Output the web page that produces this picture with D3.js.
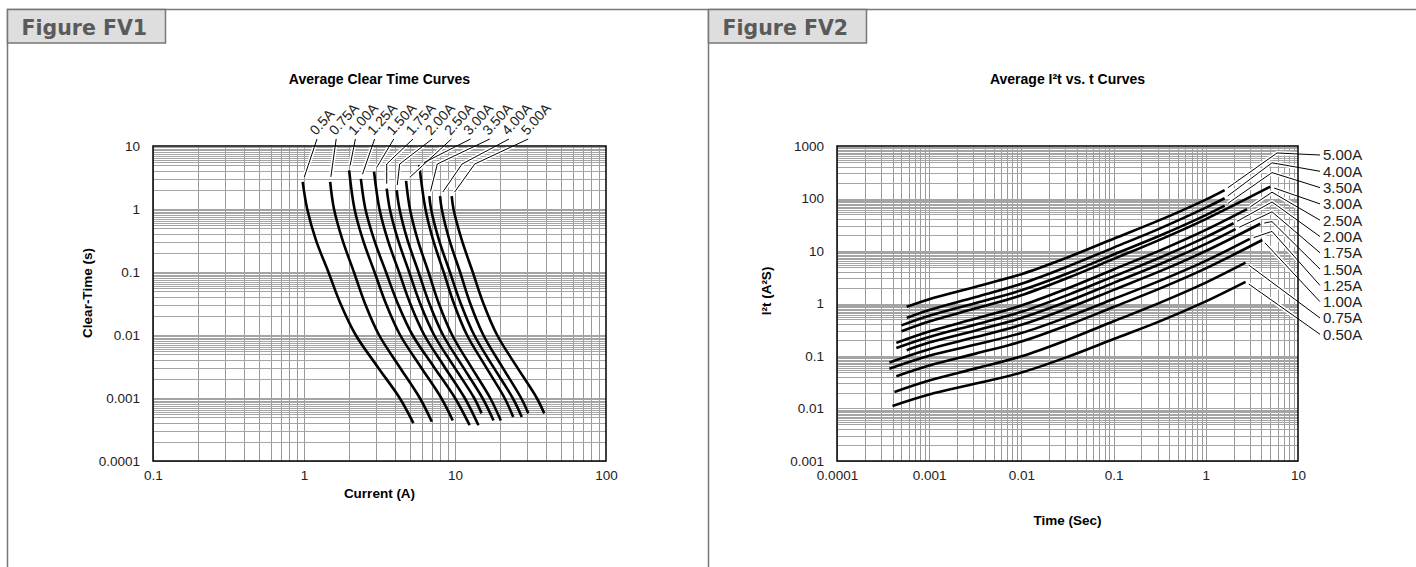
<!DOCTYPE html>
<html>
<head>
<meta charset="utf-8">
<script src="https://cdn.jsdelivr.net/npm/d3@7"></script>
<style>
  body { margin: 0; background: #fff; }
  svg text { font-family: "Liberation Sans", Arial, Helvetica, sans-serif; }
</style>
</head>
<body>
<div id="chart"></div>
<script>
// ratings, as labelled on each figure
var clearLabels = ["0.5A", "0.75A", "1.00A", "1.25A", "1.50A", "1.75A", "2.00A", "2.50A", "3.00A", "3.50A", "4.00A", "5.00A"];
var i2tLabels = ["0.50A", "0.75A", "1.00A", "1.25A", "1.50A", "1.75A", "2.00A", "2.50A", "3.00A", "3.50A", "4.00A", "5.00A"];

// Figure FV1 : current (A) / clear time (s), one row per rating
var clearCurrent = [
  [0.98, 1.05, 1.20, 1.45, 1.74, 2.20, 3.05, 4.30, 5.30],
  [1.49, 1.58, 1.80, 2.14, 2.53, 3.14, 4.26, 5.85, 7.02],
  [1.99, 2.16, 2.46, 2.93, 3.48, 4.33, 5.89, 8.11, 9.66],
  [2.38, 2.55, 2.92, 3.49, 4.17, 5.23, 7.19, 10.0, 12.5],
  [2.91, 3.16, 3.59, 4.26, 5.04, 6.26, 8.46, 11.6, 14.3],
  [3.53, 3.70, 4.20, 4.97, 5.87, 7.27, 9.80, 13.4, 15.0],
  [4.11, 4.29, 4.85, 5.73, 6.75, 8.33, 11.2, 15.2, 18.0],
  [4.74, 5.03, 5.67, 6.67, 7.80, 9.57, 12.7, 17.1, 20.1],
  [5.80, 6.37, 7.17, 8.41, 9.82, 12.0, 15.9, 21.3, 24.3],
  [6.76, 6.94, 7.84, 9.25, 10.9, 13.4, 17.8, 24.1, 27.7],
  [7.96, 8.17, 9.19, 10.8, 12.6, 15.4, 20.4, 27.4, 30.6],
  [9.51, 9.77, 11.1, 13.1, 15.4, 19.0, 25.5, 34.8, 39.0]
];
var clearTime = [
  [2.7, 1, 0.32, 0.1, 0.032, 0.01, 0.0032, 0.001, 0.0004],
  [2.7, 1, 0.32, 0.1, 0.032, 0.01, 0.0032, 0.001, 0.00042],
  [4.1, 1, 0.32, 0.1, 0.032, 0.01, 0.0032, 0.001, 0.00044],
  [3.0, 1, 0.32, 0.1, 0.032, 0.01, 0.0032, 0.001, 0.00037],
  [3.9, 1, 0.32, 0.1, 0.032, 0.01, 0.0032, 0.001, 0.00037],
  [2.1, 1, 0.32, 0.1, 0.032, 0.01, 0.0032, 0.001, 0.00057],
  [2.0, 1, 0.32, 0.1, 0.032, 0.01, 0.0032, 0.001, 0.00044],
  [2.8, 1, 0.32, 0.1, 0.032, 0.01, 0.0032, 0.001, 0.00044],
  [5.0, 1, 0.32, 0.1, 0.032, 0.01, 0.0032, 0.001, 0.0005],
  [1.6, 1, 0.32, 0.1, 0.032, 0.01, 0.0032, 0.001, 0.0005],
  [1.6, 1, 0.32, 0.1, 0.032, 0.01, 0.0032, 0.001, 0.00057],
  [1.6, 1, 0.32, 0.1, 0.032, 0.01, 0.0032, 0.001, 0.00057]
];

// Figure FV2 : time (s) / I2t (A2s)
var i2tTime = [
  [2.7, 1, 0.32, 0.1, 0.032, 0.01, 0.0032, 0.001, 0.0004],
  [2.7, 1, 0.32, 0.1, 0.032, 0.01, 0.0032, 0.001, 0.00042],
  [4.1, 1, 0.32, 0.1, 0.032, 0.01, 0.0032, 0.001, 0.00044],
  [3.0, 1, 0.32, 0.1, 0.032, 0.01, 0.0032, 0.001, 0.00037],
  [3.9, 1, 0.32, 0.1, 0.032, 0.01, 0.0032, 0.001, 0.00037],
  [2.1, 1, 0.32, 0.1, 0.032, 0.01, 0.0032, 0.001, 0.00057],
  [2.0, 1, 0.32, 0.1, 0.032, 0.01, 0.0032, 0.001, 0.00044],
  [2.8, 1, 0.32, 0.1, 0.032, 0.01, 0.0032, 0.001, 0.00044],
  [5.0, 1, 0.32, 0.1, 0.032, 0.01, 0.0032, 0.001, 0.0005],
  [1.6, 1, 0.32, 0.1, 0.032, 0.01, 0.0032, 0.001, 0.0005],
  [1.6, 1, 0.32, 0.1, 0.032, 0.01, 0.0032, 0.001, 0.00057],
  [1.6, 1, 0.32, 0.1, 0.032, 0.01, 0.0032, 0.001, 0.00057]
];
var i2tValue = [
  [2.59, 1.10, 0.461, 0.210, 0.0969, 0.0484, 0.0298, 0.0185, 0.0112],
  [5.99, 2.50, 1.04, 0.458, 0.205, 0.0986, 0.0581, 0.0342, 0.0207],
  [16.2, 4.67, 1.94, 0.859, 0.388, 0.188, 0.111, 0.0658, 0.0411],
  [17.0, 6.50, 2.73, 1.22, 0.557, 0.274, 0.165, 0.101, 0.0574],
  [33.0, 9.99, 4.13, 1.82, 0.813, 0.392, 0.229, 0.135, 0.0752],
  [26.2, 13.7, 5.65, 2.47, 1.10, 0.529, 0.307, 0.180, 0.129],
  [33.8, 18.4, 7.53, 3.28, 1.46, 0.694, 0.399, 0.230, 0.142],
  [62.9, 25.3, 10.3, 4.45, 1.95, 0.916, 0.516, 0.292, 0.178],
  [168, 40.6, 16.5, 7.07, 3.09, 1.44, 0.808, 0.454, 0.296],
  [73.1, 48.2, 19.7, 8.56, 3.77, 1.79, 1.02, 0.583, 0.383],
  [101, 66.8, 27.0, 11.6, 5.09, 2.38, 1.33, 0.751, 0.532],
  [145, 95.5, 39.1, 17.1, 7.60, 3.62, 2.09, 1.21, 0.867]
];

// tick labels
var currentTicks = ["0.1", "1", "10", "100"];
var clearTimeTicks = ["0.0001", "0.001", "0.01", "0.1", "1", "10"];
var timeTicks = ["0.0001", "0.001", "0.01", "0.1", "1", "10"];
var i2tTicks = ["0.001", "0.01", "0.1", "1", "10", "100", "1000"];

var W = 1416, H = 567;
var svg = d3.select("#chart").append("svg")
    .attr("width", W)
    .attr("height", H);

// page frame and figure tabs
var frame = svg.append("g").attr("stroke", "#777").attr("stroke-width", 1.5);
frame.append("line").attr("x1", 7).attr("x2", W).attr("y1", 9.5).attr("y2", 9.5);
frame.append("line").attr("x1", 7.5).attr("x2", 7.5).attr("y1", 9).attr("y2", H);
frame.append("line").attr("x1", 708.5).attr("x2", 708.5).attr("y1", 9).attr("y2", H);

[["Figure FV1", 7.5], ["Figure FV2", 708.5]].forEach(function(f) {
  svg.append("rect")
      .attr("x", f[1]).attr("y", 9.5)
      .attr("width", 158).attr("height", 33.5)
      .attr("fill", "#dedede")
      .attr("stroke", "#777").attr("stroke-width", 1.5);
  svg.append("text")
      .attr("x", f[1] + 14).attr("y", 34.5)
      .style("font-family", "'DejaVu Sans', sans-serif")
      .style("font-weight", "bold")
      .style("font-size", "20.5px")
      .attr("fill", "#5a5a5a")
      .text(f[0]);
});

function gridValues(lo, hi, mults) {
  var v = [];
  for (var e = Math.round(Math.log10(lo)); e < Math.round(Math.log10(hi)); e++) {
    mults.forEach(function(m) { v.push(m * Math.pow(10, e)); });
  }
  return v;
}

var xMults = [1, 2, 3, 4, 5, 6, 7, 8, 9];
var yMults = [1, 2, 3, 4, 5, 5.5, 6, 6.5, 7, 7.5, 8, 8.5, 9, 9.5];

var line = d3.line().curve(d3.curveCatmullRom.alpha(0.5));

function shorten(p, q, d) {
  // move point q towards p by d px
  var dx = p[0] - q[0], dy = p[1] - q[1], len = Math.sqrt(dx * dx + dy * dy);
  return [q[0] + dx / len * d, q[1] + dy / len * d];
}

function drawPanel(o) {
  var g = svg.append("g");
  var x = o.x, y = o.y;
  var x0 = x.range()[0], x1 = x.range()[1], y0 = y.range()[1], y1 = y.range()[0];

  g.append("g").selectAll("line")
    .data(gridValues(x.domain()[0], x.domain()[1], xMults))
    .enter().append("line")
      .attr("x1", function(d) { return Math.round(x(d)) + 0.5; })
      .attr("x2", function(d) { return Math.round(x(d)) + 0.5; })
      .attr("y1", y0).attr("y2", y1)
      .attr("stroke", "#9a9a9a").attr("stroke-width", 1);
  g.append("g").selectAll("line")
    .data(gridValues(y.domain()[0], y.domain()[1], yMults))
    .enter().append("line")
      .attr("y1", function(d) { return Math.round(y(d)) + 0.5; })
      .attr("y2", function(d) { return Math.round(y(d)) + 0.5; })
      .attr("x1", x0).attr("x2", x1)
      .attr("stroke", "#a4a4a4").attr("stroke-width", 1);

  g.append("g").selectAll("path")
    .data(o.series)
    .enter().append("path")
      .attr("d", function(s) { return line(s.map(function(p) { return [x(p[0]), y(p[1])]; })); })
      .attr("fill", "none")
      .attr("stroke", "#000")
      .attr("stroke-width", 2.6);

  // leader lines with a white halo, so crossed curves break
  var lg = g.append("g");
  lg.selectAll("path.halo").data(o.leaders).enter().append("path")
      .attr("d", function(d) { return d3.line()(d); })
      .attr("fill", "none").attr("stroke", "#fff").attr("stroke-width", 4);
  lg.selectAll("path.ld").data(o.leaders).enter().append("path")
      .attr("d", function(d) { return d3.line()(d); })
      .attr("fill", "none").attr("stroke", "#000").attr("stroke-width", 1);

  g.append("rect")
      .attr("x", x0).attr("y", y0)
      .attr("width", x1 - x0).attr("height", y1 - y0)
      .attr("fill", "none").attr("stroke", "#000").attr("stroke-width", 1.5);

  var ax = g.append("g")
      .attr("transform", "translate(0," + y1 + ")")
      .call(d3.axisBottom(x).tickValues(o.xTicks.map(Number)).tickSize(0).tickPadding(9)
        .tickFormat(function(d, i) { return o.xTicks[i]; }));
  var ay = g.append("g")
      .attr("transform", "translate(" + x0 + ",0)")
      .call(d3.axisLeft(y).tickValues(o.yTicks.map(Number)).tickSize(0).tickPadding(13)
        .tickFormat(function(d, i) { return o.yTicks[i]; }));
  [ax, ay].forEach(function(a) {
    a.select(".domain").remove();
    a.selectAll("text")
        .style("font-family", "'Liberation Sans', Arial, sans-serif")
        .style("font-size", "13.5px")
        .attr("fill", "#222");
  });

  g.append("text")
      .attr("x", (x0 + x1) / 2).attr("y", o.titleY)
      .attr("text-anchor", "middle")
      .style("font-weight", "bold").style("font-size", "14px")
      .text(o.title);
  g.append("text")
      .attr("x", (x0 + x1) / 2).attr("y", o.xTitleY)
      .attr("text-anchor", "middle")
      .style("font-weight", "bold").style("font-size", "13.5px")
      .text(o.xTitle);
  g.append("text")
      .attr("transform", "translate(" + o.yTitleX + "," + o.yTitleMid + ") rotate(-90)")
      .attr("text-anchor", "middle")
      .style("font-weight", "bold").style("font-size", "13.5px")
      .text(o.yTitle);
  return g;
}

// ---- Figure FV1 ----
var xL = d3.scaleLog().domain([0.1, 100]).range([153, 606]);
var yL = d3.scaleLog().domain([0.0001, 10]).range([461, 146]);

var clearSeries = clearCurrent.map(function(row, i) {
  return row.map(function(c, j) { return [c, clearTime[i][j]]; });
});

// label anchors across the top, leaders down to the start of each curve
var elbowDx = [0, 0, 0, 0, 0, 0, 3, 0, 4, 8, 22, 23];
var clearLeaders = clearSeries.map(function(s, i) {
  var a = [317 + i * 19.2, 139];
  var st = [xL(s[0][0]), yL(s[0][1])];
  if (st[1] > 184) {
    var e = [st[0] + elbowDx[i], 164];
    return [a, e, shorten(e, st, 5)];
  }
  return [a, shorten(a, st, 5)];
});

var gL = drawPanel({
  x: xL, y: yL, series: clearSeries, leaders: clearLeaders,
  xTicks: currentTicks, yTicks: clearTimeTicks,
  title: "Average Clear Time Curves", titleY: 84,
  xTitle: "Current (A)", xTitleY: 498,
  yTitle: "Clear-Time (s)", yTitleX: 92, yTitleMid: 293
});

gL.append("g").selectAll("text")
  .data(clearLabels)
  .enter().append("text")
    .attr("transform", function(d, i) { return "translate(" + (316 + i * 19.2) + ",136) rotate(-48)"; })
    .style("font-size", "14px")
    .attr("fill", "#222")
    .text(function(d) { return d; });

// ---- Figure FV2 ----
var xR = d3.scaleLog().domain([0.0001, 10]).range([837, 1298]);
var yR = d3.scaleLog().domain([0.001, 1000]).range([461, 146]);

var i2tSeries = i2tTime.map(function(row, i) {
  return row.map(function(t, j) { return [t, i2tValue[i][j]]; });
});

// labels listed top-down at the right, elbows stacked just inside the frame
var i2tLeaders = i2tSeries.map(function(s, i) {
  var k = 11 - i;
  var a = [1320, 155 + k * 16.3];
  var en = [xR(s[0][0]), yR(s[0][1])];
  if (k < 9 && en[0] < 1262) {
    var e = [k === 0 ? 1277 : 1272, 153 + k * 9.8];
    return [a, e, shorten(e, en, 4)];
  }
  return [a, shorten(a, en, 4)];
});

var gR = drawPanel({
  x: xR, y: yR, series: i2tSeries, leaders: i2tLeaders,
  xTicks: timeTicks, yTicks: i2tTicks,
  title: "Average I\u00B2t vs. t Curves", titleY: 84,
  xTitle: "Time (Sec)", xTitleY: 525,
  yTitle: "I\u00B2t (A\u00B2S)", yTitleX: 771, yTitleMid: 291
});

gR.append("g").selectAll("text")
  .data(i2tLabels)
  .enter().append("text")
    .attr("x", 1323)
    .attr("y", function(d, i) { return 155 + (11 - i) * 16.3; })
    .attr("dy", "0.36em")
    .style("font-size", "15px")
    .attr("fill", "#222")
    .text(function(d) { return d; });
</script>
</body>
</html>
